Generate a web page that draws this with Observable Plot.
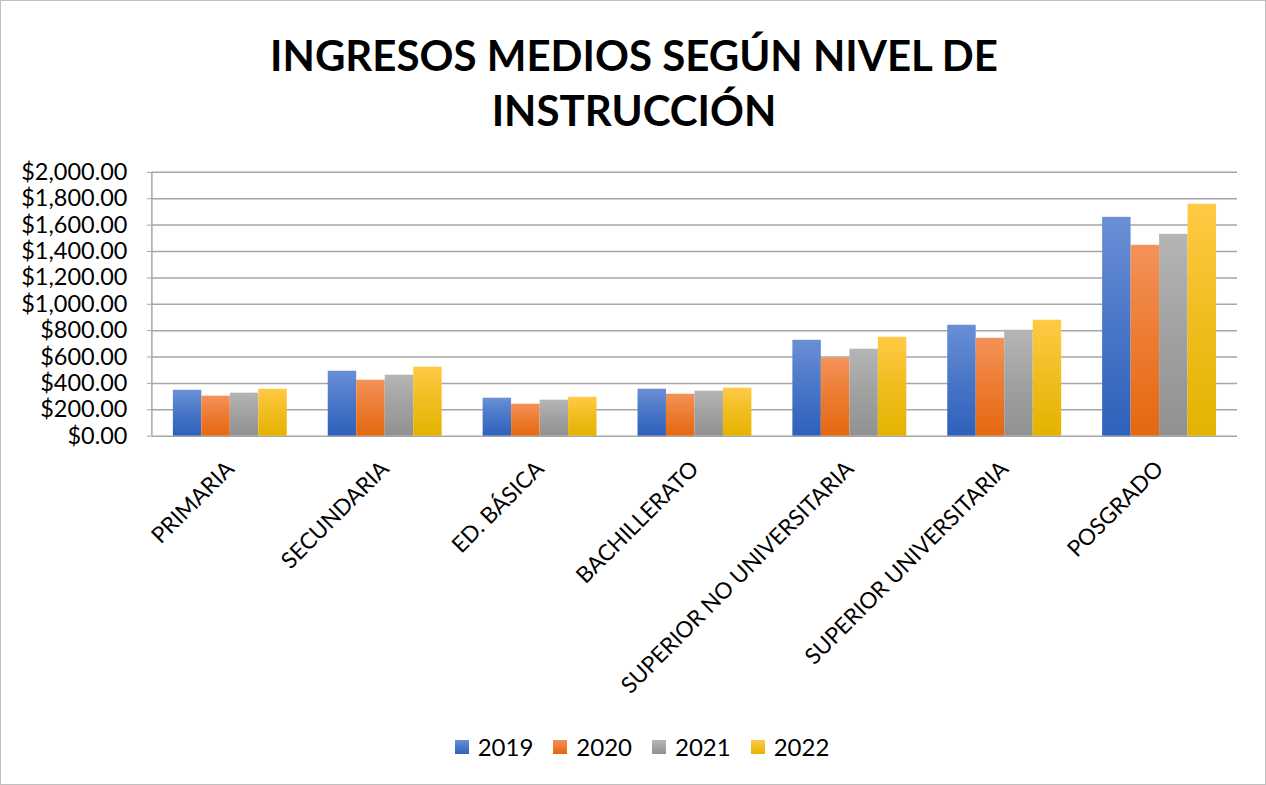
<!DOCTYPE html>
<html>
<head>
<meta charset="utf-8">
<script src="https://cdn.jsdelivr.net/npm/d3@7"></script>
<script src="https://cdn.jsdelivr.net/npm/@observablehq/plot@0.6"></script>
<style>
  html, body { margin: 0; padding: 0; background: #fff; }
  #wrap { position: relative; width: 1266px; height: 785px; box-sizing: border-box; border: 1px solid #bfbfbf; overflow: hidden; font-family: Lato, "Open Sans", sans-serif; }
  #title { position: absolute; left: 0; width: 1266px; top: 27px; text-align: center; font-weight: 700; font-size: 42px; line-height: 55px; color: #000; }
  #chart { position: absolute; left: -1px; top: -1px; }
  #legend { position: absolute; top: 731px; left: 8px; width: 1266px; display: flex; justify-content: center; gap: 20px; font-size: 24px; color: #000; }
  #legend .item { display: flex; align-items: center; gap: 9px; }
  #legend .sw { width: 14px; height: 14px; display: inline-block; }
</style>
</head>
<body>
<div id="wrap">
  <div id="title">INGRESOS MEDIOS SEGÚN NIVEL DE<br>INSTRUCCIÓN</div>
  <div id="chart"></div>
  <div id="legend"></div>
</div>
<script>
const categories = ["PRIMARIA", "SECUNDARIA", "ED. BÁSICA", "BACHILLERATO", "SUPERIOR NO UNIVERSITARIA", "SUPERIOR UNIVERSITARIA", "POSGRADO"];
const years = ["2019", "2020", "2021", "2022"];
const values2019 = [348, 492, 288, 356, 727, 841, 1659];
const values2020 = [303, 424, 242, 318, 593, 742, 1447];
const values2021 = [326, 462, 273, 341, 659, 803, 1530];
const values2022 = [356, 523, 295, 364, 750, 879, 1758];
const yTicks = [0, 200, 400, 600, 800, 1000, 1200, 1400, 1600, 1800, 2000];

const colorTop = ["#6a8fd6", "#f4925a", "#b5b5b5", "#ffca45"];
const colorBottom = ["#2e61bb", "#e5680f", "#919191", "#e4b300"];

const series = [values2019, values2020, values2021, values2022];
const tables = series.map((vals, j) => categories.map((c, i) => ({category: c, year: years[j], value: vals[i]})));

const fmt = d3.format("$,.2f");

const W = 1266, H = 785, mL = 152, mR = 28, mT = 172, mB = 349;
const padIn = 0.265, padOut = 0.1325;
const step = (W - mL - mR) / (categories.length - padIn + 2 * padOut);
const bw = step * (1 - padIn);
const sub = bw / years.length;

const plot = Plot.plot({
  width: W,
  height: H,
  marginTop: mT,
  marginBottom: mB,
  marginLeft: mL,
  marginRight: mR,
  style: { fontFamily: "Lato, 'Open Sans', sans-serif", background: "transparent", overflow: "visible" },
  x: { domain: categories, paddingInner: padIn, paddingOuter: padOut, label: null },
  y: { domain: [0, 2000], label: null },
  marks: [
    Plot.gridY(yTicks, { stroke: "#a6a6a6", strokeOpacity: 1, strokeWidth: 1.5 }),
    ...tables.map((t, j) => Plot.barY(t, {
      x: "category", y: "value", fill: `url(#grad${j})`,
      insetLeft: j * sub, insetRight: (years.length - 1 - j) * sub
    })),
    Plot.axisY(yTicks, { tickFormat: fmt, tickSize: 5, tickPadding: 20, fontSize: 23.5, stroke: "#a6a6a6", fill: "#000", label: null }),
    Plot.axisX({ tickRotate: -45, tickSize: 0, tickPadding: 29, fontSize: 22.5, fill: "#000", label: null })
  ]
});

const svg = plot;
const ns = "http://www.w3.org/2000/svg";
const defs = document.createElementNS(ns, "defs");
years.forEach((y, i) => {
  const g = document.createElementNS(ns, "linearGradient");
  g.setAttribute("id", `grad${i}`);
  g.setAttribute("x1", "0"); g.setAttribute("y1", "0");
  g.setAttribute("x2", "0"); g.setAttribute("y2", "1");
  const s1 = document.createElementNS(ns, "stop");
  s1.setAttribute("offset", "0"); s1.setAttribute("stop-color", colorTop[i]);
  const s2 = document.createElementNS(ns, "stop");
  s2.setAttribute("offset", "0.5"); s2.setAttribute("stop-color", d3.interpolateRgb(colorTop[i], colorBottom[i])(0.55));
  const s3 = document.createElementNS(ns, "stop");
  s3.setAttribute("offset", "1"); s3.setAttribute("stop-color", colorBottom[i]);
  g.appendChild(s1); g.appendChild(s2); g.appendChild(s3);
  defs.appendChild(g);
});
svg.insertBefore(defs, svg.firstChild);

// y axis line
const yScale = plot.scale("y");
const line = document.createElementNS(ns, "line");
line.setAttribute("x1", mL); line.setAttribute("x2", mL);
line.setAttribute("y1", yScale.apply(0)); line.setAttribute("y2", yScale.apply(2000));
line.setAttribute("stroke", "#a6a6a6"); line.setAttribute("stroke-width", "1.5");
svg.appendChild(line);

document.getElementById("chart").appendChild(plot);

const legend = document.getElementById("legend");
years.forEach((y, i) => {
  const item = document.createElement("div");
  item.className = "item";
  item.innerHTML = `<span class="sw" style="background:linear-gradient(${colorTop[i]}, ${colorBottom[i]})"></span><span>${y}</span>`;
  legend.appendChild(item);
});
</script>
</body>
</html>
